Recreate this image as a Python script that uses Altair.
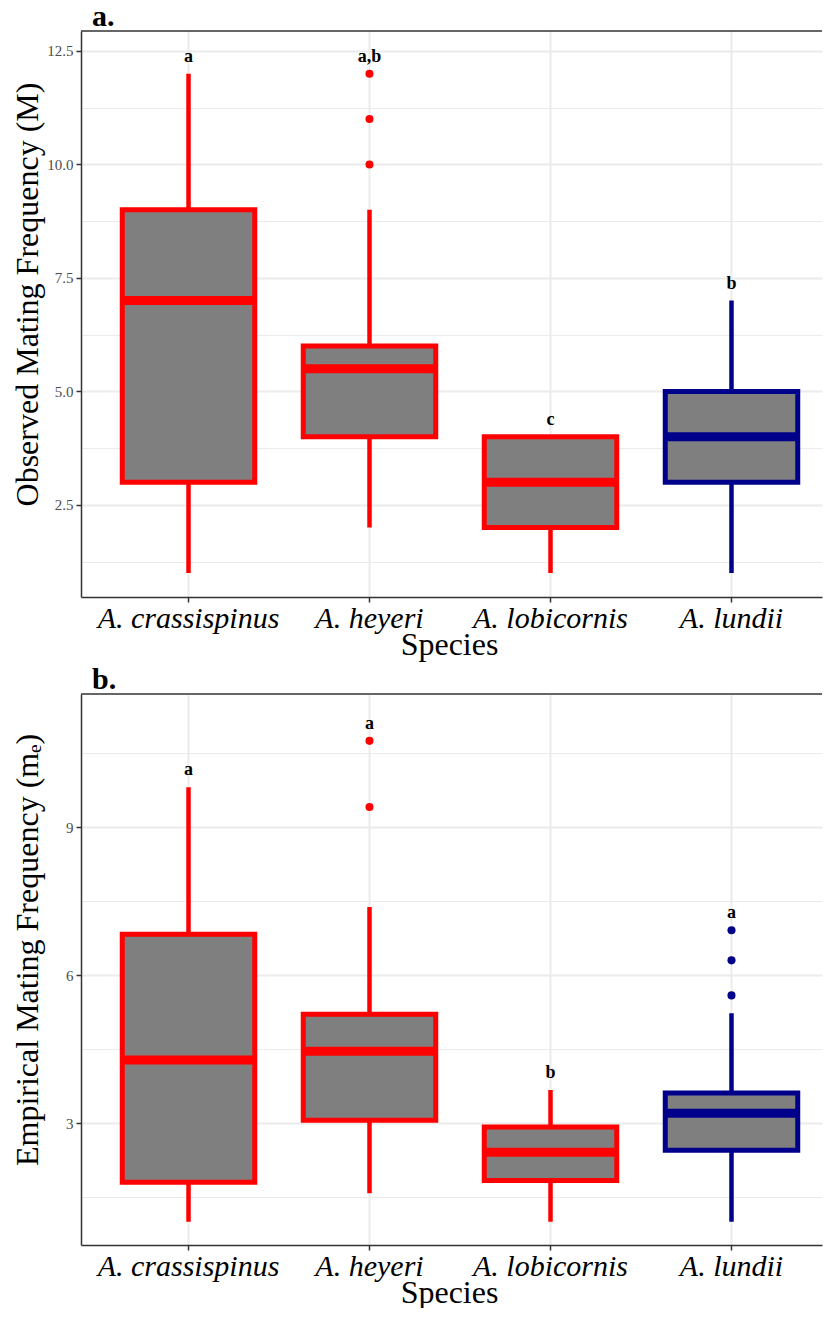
import altair as alt
import pandas as pd

species = ["A. crassispinus", "A. heyeri", "A. lobicornis", "A. lundii"]
box_colors = ["#FF0000", "#FF0000", "#FF0000", "#00008B"]
panel_titles = ["a.", "b."]

# Panel a: Observed mating frequency (M)
a_lower = [1, 2, 1, 1]
a_q1 = [3, 4, 2, 3]
a_median = [7, 5.5, 3, 4]
a_q3 = [9, 6, 4, 5]
a_upper = [12, 9, 4, 7]
a_out_species = ["A. heyeri", "A. heyeri", "A. heyeri"]
a_out_values = [10, 11, 12]
a_letters = ["a", "a,b", "c", "b"]
a_letter_at = [12, 12, 4, 7]
a_ticks = [1.25, 2.5, 3.75, 5, 6.25, 7.5, 8.75, 10, 11.25, 12.5]

# Panel b: Empirical mating frequency (m_e)
b_lower = [1.0, 1.58, 1.0, 1.0]
b_q1 = [1.80, 3.06, 1.84, 2.45]
b_median = [4.28, 4.46, 2.41, 3.20]
b_q3 = [6.83, 5.21, 2.92, 3.61]
b_upper = [9.81, 7.38, 3.67, 5.23]
b_out_species = ["A. heyeri", "A. heyeri", "A. lundii", "A. lundii", "A. lundii"]
b_out_values = [9.41, 10.75, 5.59, 6.30, 6.91]
b_letters = ["a", "a", "b", "a"]
b_letter_at = [9.81, 10.75, 3.67, 6.91]
b_ticks = [1.5, 3, 4.5, 6, 7.5, 9, 10.5]

SERIF = "Liberation Serif"
W = 741
BORDER = "#333333"


def panel(lower, q1, median, q3, upper, out_sp, out_val, letters, letter_at,
          ticks, major, fmt, domain, ytitle, ptitle, height):
    box_df = pd.DataFrame({
        "species": species, "lower": lower, "q1": q1, "median": median,
        "q3": q3, "upper": upper, "letter": letters, "top": letter_at,
    })
    out_df = pd.DataFrame({"species": out_sp, "value": out_val})
    title_df = pd.DataFrame({"t": [ptitle]})

    is_major = f"abs(datum.value / {major} - round(datum.value / {major})) < 1e-6"
    yaxis = alt.Axis(
        title=ytitle, values=ticks,
        labelExpr=f"{is_major} ? format(datum.value, '{fmt}') : ''",
        labelFont=SERIF, labelFontSize=15, labelColor="#4D4D4D",
        labelPadding=3, labelOverlap=False,
        tickSize=5, tickWidth=1.5, tickColor=BORDER,
        tickOpacity={"condition": {"test": is_major, "value": 1}, "value": 0},
        grid=True, gridColor="#EBEBEB",
        gridWidth={"condition": {"test": is_major, "value": 2}, "value": 1},
        domain=True, domainColor=BORDER, domainWidth=1.5,
        titleFont=SERIF, titleFontSize=32, titleFontWeight="normal",
        titleColor="black", titleX=-44, titleY=height / 2 - 20,
        titleBaseline="alphabetic", titleLimit=2000,
    )
    xaxis = alt.Axis(
        title="Species", labelFont=SERIF, labelFontStyle="italic",
        labelFontSize=30, labelColor="black", labelAngle=0, labelPadding=25,
        labelBaseline="alphabetic", labelLimit=1000, labelOverlap=False,
        tickSize=5, tickWidth=1.5, tickColor=BORDER,
        domain=True, domainColor=BORDER, domainWidth=1.5,
        grid=True, gridColor="#EBEBEB", gridWidth=2,
        titleFont=SERIF, titleFontSize=32, titleFontWeight="normal",
        titleColor="black", titleX=368, titleY=57, titleBaseline="alphabetic",
        titleAlign="center",
    )
    xscale = alt.Scale(domain=species, paddingInner=0, paddingOuter=0.047,
                       align=1)
    yscale = alt.Scale(domain=domain, nice=False, zero=False)
    cscale = alt.Scale(domain=species, range=box_colors)

    X = alt.X("species:N", scale=xscale, axis=xaxis, sort=species)

    def Y(field):
        return alt.Y(f"{field}:Q", scale=yscale, axis=yaxis)

    col = alt.Color("species:N", scale=cscale, legend=None)
    base = alt.Chart(box_df)

    whisk = base.mark_rule(strokeWidth=4.5).encode(
        x=X, y=Y("lower"), y2="upper:Q", color=col)
    box = base.mark_bar(fill="#7F7F7F", strokeWidth=5,
                        width=alt.RelativeBandSize(0.732)).encode(
        x=X, y=Y("q1"), y2="q3:Q",
        stroke=alt.Stroke("species:N", scale=cscale, legend=None))
    med = base.mark_tick(thickness=9, size=133, opacity=1).encode(
        x=X, y=Y("median"), color=col)
    outl = alt.Chart(out_df).mark_circle(size=65, opacity=1).encode(
        x=X, y=Y("value"), color=col)
    lett = base.mark_text(dy=-17, font=SERIF, fontSize=18, fontWeight="bold",
                          color="black", baseline="middle").encode(
        x=X, y=Y("top"), text="letter:N")
    top_border = alt.Chart(title_df).mark_rule(
        color=BORDER, strokeWidth=1.5).encode(
        x=alt.value(0), x2=alt.value(W), y=alt.value(0))
    ptext = alt.Chart(title_df).mark_text(
        align="left", baseline="alphabetic", font=SERIF, fontSize=30,
        fontWeight="bold", color="black").encode(
        x=alt.value(11), y=alt.value(-5), text="t:N")

    return alt.layer(whisk, box, med, outl, lett, top_border, ptext).properties(
        width=W, height=height)


pa = panel(a_lower, a_q1, a_median, a_q3, a_upper, a_out_species,
           a_out_values, a_letters, a_letter_at, a_ticks, 2.5, ".1f",
           [0.47, 12.94], "Observed Mating Frequency (M)", panel_titles[0], 566)
pb = panel(b_lower, b_q1, b_median, b_q3, b_upper, b_out_species,
           b_out_values, b_letters, b_letter_at, b_ticks, 3, "d",
           [0.53, 11.70], "Empirical Mating Frequency (mₑ)", panel_titles[1], 551)

chart = alt.vconcat(pa, pb, spacing=5).properties(
    padding={"left": 2, "top": -6, "right": 0, "bottom": 0},
    background="white",
).configure_view(stroke=None)

chart.save("out.html", embed_options={"renderer": "svg", "actions": False})
